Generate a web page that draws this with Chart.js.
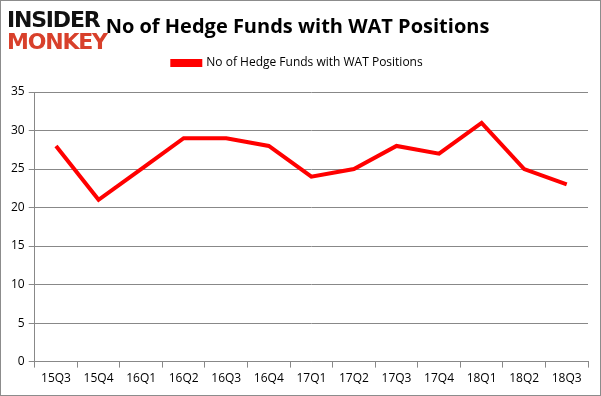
<!DOCTYPE html>
<html>
<head>
<meta charset="utf-8">
<script src="https://cdn.jsdelivr.net/npm/chart.js@4"></script>
<style>
  html, body { margin: 0; padding: 0; background: #fff; }
  #wrap { position: relative; width: 601px; height: 396px; box-sizing: border-box; border: 1px solid #8c8c8c; }
  #logo { position: absolute; left: 6px; top: 8px; font-family: "DejaVu Sans", sans-serif; font-weight: bold; line-height: 22px; font-size: 22px; letter-spacing: -1.2px; }
  #logo .a { color: #111; }
  #logo .b { color: #d8402b; }
  canvas { position: absolute; left: 0; top: 0; }
</style>
</head>
<body>
<div id="wrap">
  <canvas id="grafico" width="599" height="394"></canvas>
  <div id="logo"><div class="a">INSIDER</div><div class="b">MONKEY</div></div>
</div>
<script>
// dados do grafico
const trimestres = ['15Q3', '15Q4', '16Q1', '16Q2', '16Q3', '16Q4', '17Q1', '17Q2', '17Q3', '17Q4', '18Q1', '18Q2', '18Q3'];
const fundos = [28, 21, 25, 29, 29, 28, 24, 25, 28, 27, 31, 25, 23];
const ticksY = [0, 5, 10, 15, 20, 25, 30, 35];
const titulo = 'No of Hedge Funds with WAT Positions';

// espaco extra abaixo da legenda
const espacoLegenda = {
    id: 'espacoLegenda',
    beforeInit(chart) {
        const fitOriginal = chart.legend.fit;
        chart.legend.fit = function () {
            fitOriginal.bind(chart.legend)();
            this.height += 13;
        };
    }
};

let ctx = document.getElementById('grafico');

new Chart(ctx, {
    type: 'line',
    data: {
        labels: trimestres,
        datasets: [{
            label: titulo,
            data: fundos,
            borderColor: '#ff0000',
            backgroundColor: '#ff0000',
            borderWidth: 4,
            pointRadius: 0,
            tension: 0
        }]
    },
    plugins: [espacoLegenda],
    options: {
        responsive: false,
        animation: false,
        layout: { padding: { left: 6, right: 12, top: 12, bottom: 5 } },
        plugins: {
            title: {
                display: true,
                text: titulo,
                color: '#000',
                font: { family: 'Open Sans', size: 20, weight: 'bold' },
                padding: { top: 2, bottom: 2 }
            },
            legend: {
                labels: {
                    color: '#000',
                    font: { family: 'Open Sans', size: 12 },
                    boxWidth: 28,
                    boxHeight: 4,
                    padding: 16
                }
            },
            tooltip: { enabled: false }
        },
        scales: {
            x: {
                offset: true,
                grid: { offset: true, drawOnChartArea: false, color: '#888', tickLength: 6 },
                border: { color: '#888' },
                ticks: { color: '#000', font: { family: 'Open Sans', size: 12 }, maxRotation: 0, padding: 4 }
            },
            y: {
                min: 0,
                max: 35,
                afterBuildTicks: (axis) => { axis.ticks = ticksY.map(v => ({ value: v })) },
                grid: { color: '#888', tickLength: 6 },
                border: { color: '#888' },
                ticks: { color: '#000', font: { family: 'Open Sans', size: 12 }, padding: 4 }
            }
        }
    }
});
</script>
</body>
</html>
